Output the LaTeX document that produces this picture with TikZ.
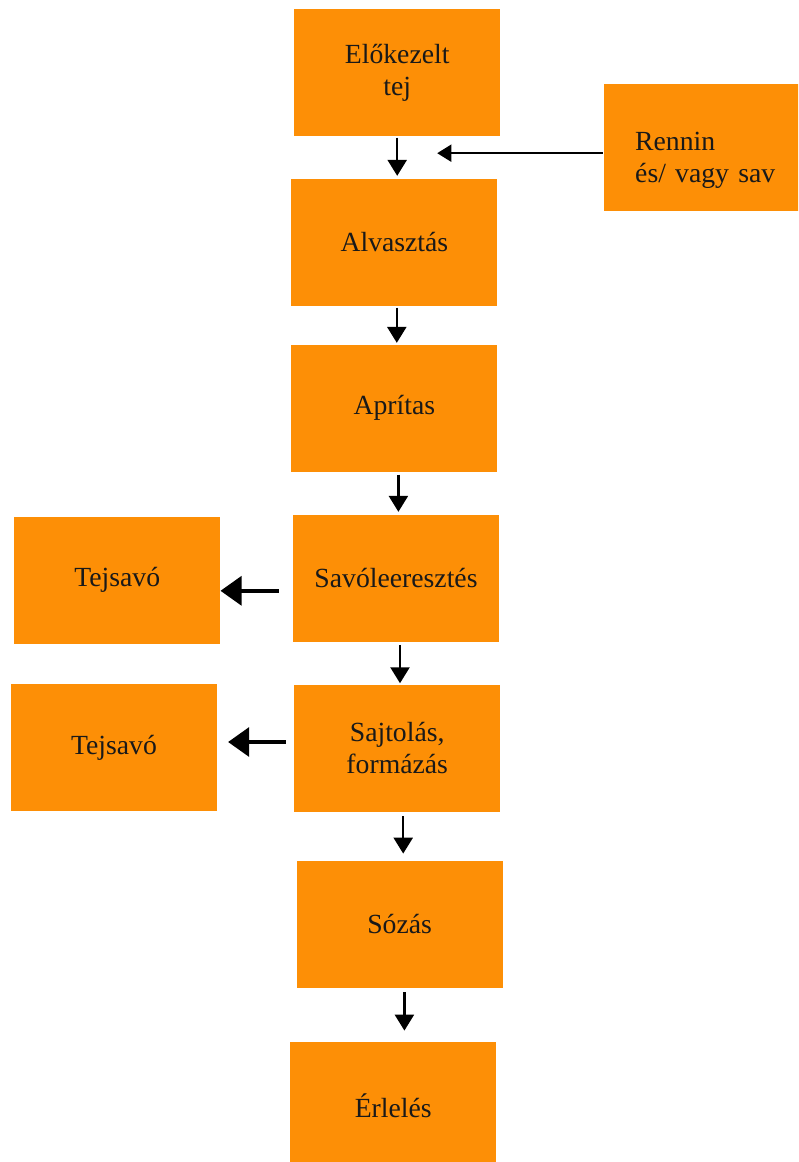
\documentclass[tikz,border=0pt]{standalone}
\usepackage{fontspec}
\setmainfont{Liberation Serif}
\usepackage{xcolor}
\usepackage{tikz}
\usetikzlibrary{arrows.meta, positioning, calc}

\definecolor{boxorange}{RGB}{253,143,6}

\begin{document}
\begin{tikzpicture}[
    % Styles
    stage/.style={rectangle, fill=boxorange, minimum width=5.15cm, minimum height=3.175cm, inner sep=0pt, align=center, text=black!90, font=\fontsize{19.7}{22.7}\selectfont},
    down/.style={-{Triangle[length=11.3pt,width=13.5pt]}, line width=1.6pt},
    feed/.style={-{Triangle[length=10pt,width=12pt]}, line width=1.5pt},
    whey/.style={-{Triangle[length=15pt,width=20.5pt]}, line width=2.8pt}
]
    \useasboundingbox (0,0) rectangle (19.95,-29.05);
    \clip (0,0) rectangle (19.95,-29.05);

    % --- Main line ---
    \node[stage] (pre) at (9.93, -1.81) {Előkezelt\\tej};
    \node[stage] (alv) at (9.86, -6.06) {Alvasztás};
    \node[stage] (apr) at (9.86, -10.20) {Aprítas};
    \node[stage] (savo) at (9.90, -14.46) {Savóleeresztés};
    \node[stage] (sajt) at (9.93, -18.71) {Sajtolás,\\formázás};
    \node[stage] (soz) at (9.99, -23.11) {Sózás};
    \node[stage] (erl) at (9.83, -27.64) {Érlelés};

    % --- Side boxes ---
    \node[stage, text width=3.6cm, align=left, text height=1.1cm] (ren) at (17.68, -3.69) {Rennin\\és/ vagy sav};
    \node[stage] (tej1) at (2.93, -14.50) {Tejsavó};
    \node[stage] (tej2) at (2.85, -18.69) {Tejsavó};

    % Vertical arrows
    \draw[down, shorten <=1pt, shorten >=2pt] (pre.south) -- (pre.south |- alv.north);
    \draw[down, shorten <=1pt, shorten >=1pt] ([xshift=0.06cm]alv.south) -- ([xshift=0.06cm]alv.south |- apr.north);
    \draw[down, shorten <=2pt, shorten >=2pt] ([xshift=0.1cm]apr.south) -- ([xshift=0.1cm]apr.south |- savo.north);
    \draw[down, shorten <=2pt, shorten >=1pt] ([xshift=0.1cm]savo.south) -- ([xshift=0.1cm]savo.south |- sajt.north);
    \draw[down, shorten <=3pt, shorten >=5pt] ([xshift=0.15cm]sajt.south) -- ([xshift=0.15cm]sajt.south |- soz.north);
    \draw[down, shorten <=3pt, shorten >=8pt] ([xshift=0.12cm]soz.south) -- ([xshift=0.12cm]soz.south |- erl.north);

    % Rennin feed
    \coordinate (merge) at (10.93, -3.83);
    \draw[feed, shorten <=1pt] (ren.west |- merge) -- (merge);

    % Whey out
    \draw[whey, shorten <=0.35cm] ([yshift=-0.31cm]savo.west) -- ([yshift=-0.31cm]savo.west -| tej1.east);
    \draw[whey, shorten <=0.2cm, shorten >=0.27cm] ([yshift=0.16cm]sajt.west) -- ([yshift=0.16cm]sajt.west -| tej2.east);

\end{tikzpicture}
\end{document}
